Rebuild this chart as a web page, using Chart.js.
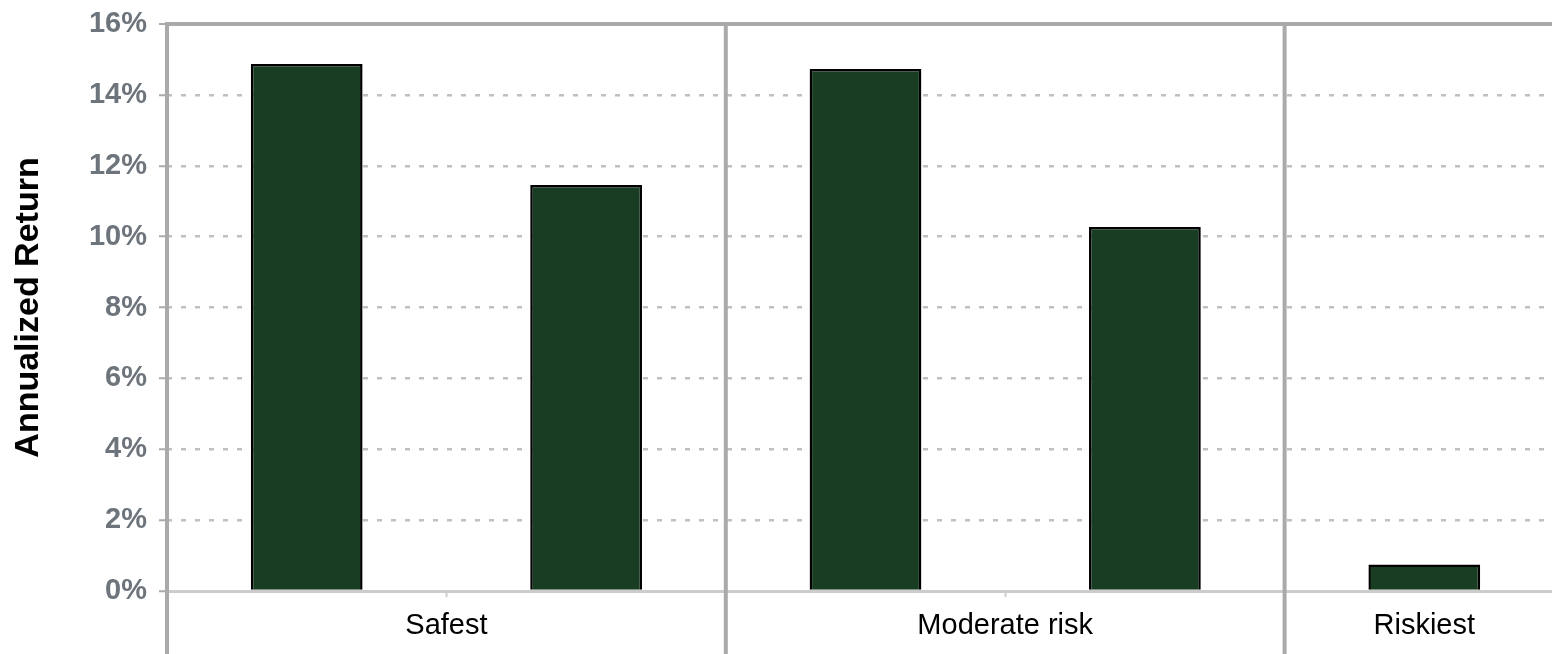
<!DOCTYPE html>
<html>
<head>
<meta charset="utf-8">
<script src="https://cdn.jsdelivr.net/npm/chart.js@4.4.1/dist/chart.umd.min.js"></script>
<style>
  html, body { margin: 0; padding: 0; background: #fff; overflow: hidden; }
  #wrap { width: 1566px; height: 654px; }
</style>
</head>
<body>
<div id="wrap"><canvas id="returnChart" width="1566" height="654"></canvas></div>
<script>
// chart data
const groupLabels = ['Safest', 'Moderate risk', 'Riskiest'];
const groupSizes = [2, 2, 1];
const returns = [14.87, 11.46, 14.73, 10.27, 0.75];
const yTicks = [0, 2, 4, 6, 8, 10, 12, 14, 16];

const FONT = 'Arial, "Liberation Sans", Helvetica, sans-serif';

// one hidden category per bar, named after its group
const barLabels = [];
groupLabels.forEach((g, i) => {
    for (let k = 0; k < groupSizes[i]; k++) barLabels.push(g + ' ' + (k + 1));
});

// positions (in bar slots) where each group starts, and its middle
const groupStarts = [];
const groupMiddles = [];
let pos = 0;
groupSizes.forEach(n => {
    groupStarts.push(pos);
    groupMiddles.push(pos + n / 2);
    pos += n;
});

// thick gray lines between the groups, running below the axis
const groupLines = {
    id: 'groupLines',
    afterDraw(chart) {
        const { ctx, chartArea, scales: { x } } = chart;
        const half = (x.getPixelForValue(1) - x.getPixelForValue(0)) / 2;
        ctx.save();
        ctx.strokeStyle = '#aaaaaa';
        ctx.lineWidth = 4;
        groupStarts.forEach(i => {
            const px = x.getPixelForValue(i) - half;
            ctx.beginPath();
            ctx.moveTo(px, chartArea.top - 2);
            ctx.lineTo(px, chart.height);
            ctx.stroke();
        });
        ctx.restore();
    }
};

new Chart(document.getElementById('returnChart').getContext('2d'), {
    type: 'bar',
    data: {
        labels: barLabels,
        datasets: [{
            label: 'Annualized Return',
            data: returns,
            backgroundColor: '#183d22',
            borderColor: '#000000',
            borderWidth: 2.5,
            barPercentage: 0.4,
            categoryPercentage: 1.0
        }]
    },
    options: {
        responsive: false,
        animation: false,
        layout: { padding: { top: 24, right: 2, bottom: 10, left: 0 } },
        plugins: {
            legend: { display: false },
            tooltip: { enabled: false }
        },
        scales: {
            x: {
                weight: 0,
                afterFit: scale => { scale.height = 6; },
                ticks: { display: false },
                grid: {
                    offset: true,
                    drawOnChartArea: false,
                    tickLength: 6,
                    tickWidth: 2,
                    tickColor: '#cccccc'
                },
                border: { color: '#cccccc', width: 3 }
            },
            xg: {
                type: 'linear',
                position: 'bottom',
                weight: 1,
                offset: false,
                min: 0,
                max: pos,
                afterBuildTicks: scale => {
                    scale.ticks = groupMiddles.map(v => ({ value: v }));
                },
                afterFit: scale => { scale.height = 47; },
                ticks: {
                    autoSkip: false,
                    maxRotation: 0,
                    padding: 12,
                    color: '#000',
                    font: { family: FONT, size: 29 },
                    callback: (value, index) => groupLabels[index]
                },
                grid: { display: false, drawTicks: false },
                border: { display: false }
            },
            y: {
                min: 0,
                max: 16,
                afterBuildTicks: scale => {
                    scale.ticks = yTicks.map(v => ({ value: v }));
                },
                afterFit: scale => {
                    scale.width = 167;
                    scale.paddingTop = 0;
                    scale.paddingBottom = 0;
                },
                ticks: {
                    padding: 12,
                    color: '#6d747c',
                    font: { family: FONT, size: 29, weight: 'bold' },
                    callback: v => v + '%'
                },
                grid: {
                    color: ctx => {
                        if (ctx.tick.value === 0) return 'rgba(0,0,0,0)';
                        if (ctx.tick.value === 16) return '#aaaaaa';
                        return '#c0c0c0';
                    },
                    lineWidth: ctx => ctx.tick.value === 16 ? 4 : 2.5,
                    tickLength: 8,
                    tickWidth: 2,
                    tickColor: '#aaaaaa'
                },
                border: {
                    display: false,
                    dash: ctx => (ctx.tick && ctx.tick.value > 0 && ctx.tick.value < 16) ? [5, 9] : []
                },
                title: {
                    display: true,
                    text: 'Annualized Return',
                    color: '#000',
                    padding: { top: 8, bottom: 4 },
                    font: { family: FONT, size: 34, weight: 'bold' }
                }
            }
        }
    },
    plugins: [groupLines]
});
</script>
</body>
</html>
